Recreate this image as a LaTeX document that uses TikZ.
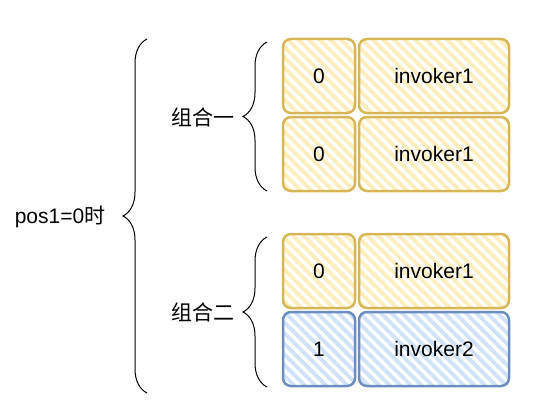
\documentclass[tikz,border=0pt]{standalone}
\usepackage{fontspec}
\setmainfont{Liberation Sans}
\newfontfamily\cjk{Noto Sans CJK SC}
\usetikzlibrary{patterns.meta,decorations.pathreplacing}

\definecolor{ystroke}{HTML}{D6B656}
\definecolor{yhatch}{HTML}{FFEDBC}
\definecolor{bstroke}{HTML}{6C8EBF}
\definecolor{bhatch}{HTML}{D0E2FA}

\begin{document}
\begin{tikzpicture}[
  x=1pt, y=-1pt,
  yellowbox/.style={rectangle, rounded corners=8pt, draw=ystroke, line width=2.5pt,
                    pattern={Lines[angle=-45,distance=7.5pt,line width=3.8pt]}, pattern color=yhatch,
                    minimum height=74pt, font=\fontsize{21}{25}\selectfont},
  bluebox/.style={yellowbox, draw=bstroke, pattern color=bhatch},
  keybox/.style={minimum width=72pt},
  valbox/.style={minimum width=150pt},
  label/.style={font=\fontsize{21}{25}\selectfont, inner sep=0pt},
  brace/.style={decorate, decoration={brace, amplitude=#1}, draw=black, line width=1pt},
]
\useasboundingbox (0,0) rectangle (538,420);

% ── Group 1 ───────────────────────────────────────────────────────────
\node[yellowbox, keybox] (k1) at (319, 76)  {0};
\node[yellowbox, valbox] (v1) at (434, 76)  {invoker1};
\node[yellowbox, keybox] (k2) at (319, 154) {0};
\node[yellowbox, valbox] (v2) at (434, 154) {invoker1};

% ── Group 2 ───────────────────────────────────────────────────────────
\node[yellowbox, keybox] (k3) at (319, 271) {0};
\node[yellowbox, valbox] (v3) at (434, 271) {invoker1};
\node[bluebox, keybox]   (k4) at (319, 349) {1};
\node[bluebox, valbox]   (v4) at (434, 349) {invoker2};

% ── Labels ────────────────────────────────────────────────────────────
\node[label] (pos)  at (60, 217)  {pos1=0{\cjk 时}};
\node[label] (grp1) at (203, 117) {\cjk 组合一};
\node[label] (grp2) at (203, 312) {\cjk 组合二};

% ── Braces ────────────────────────────────────────────────────────────
\coordinate (b0s) at (147, 393);
\coordinate (b0e) at (147, 39);
\coordinate (b1s) at (267, 191);
\coordinate (b1e) at (267, 42);
\coordinate (b2s) at (267, 387);
\coordinate (b2e) at (267, 237);

\draw[brace=24pt] (b0s) -- (b0e);
\draw[brace=24pt] (b1s) -- (b1e);
\draw[brace=24pt] (b2s) -- (b2e);

\end{tikzpicture}
\end{document}
